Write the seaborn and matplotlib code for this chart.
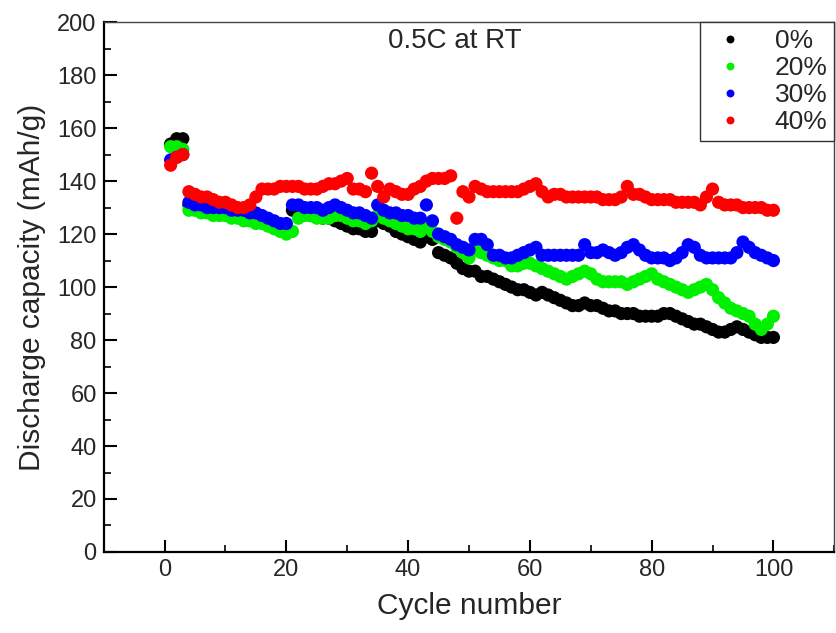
import numpy as np
import pandas as pd
import matplotlib
matplotlib.use("Agg")
import matplotlib.pyplot as plt
from matplotlib.ticker import MultipleLocator
import seaborn as sns

# discharge capacity (mAh/g) vs cycle
cycles = list(range(1, 101))

cap_0 = [154, 156, 156, 131, 130, 130, 129, 129, 128, 128,
         127, 127, 126, 126, 125, 125, 124, 123, 122, 121,
         129, 128, 128, 127, 127, 126, 126, 125, 124, 123,
         122, 122, 121, 121, 125, 124, 123, 121, 120, 119,
         118, 117, 119, 118, 113, 112, 111, 109, 107, 106,
         106, 104, 104, 103, 102, 101, 100, 99, 99, 98,
         97, 98, 97, 96, 95, 94, 93, 93, 94, 93,
         93, 92, 91, 91, 90, 90, 90, 89, 89, 89,
         89, 90, 90, 89, 88, 87, 86, 86, 85, 84,
         83, 83, 84, 85, 84, 83, 82, 81, 81, 81]

cap_20 = [153, 153, 152, 129, 129, 128, 128, 127, 127, 127,
          126, 126, 125, 125, 124, 124, 123, 122, 121, 120,
          121, 126, 127, 127, 126, 126, 126, 127, 127, 126,
          125, 125, 124, 125, 127, 126, 125, 124, 123, 122,
          122, 121, 124, 121, 119, 118, 117, 115, 113, 111,
          114, 113, 112, 111, 110, 110, 108, 108, 109, 109,
          108, 107, 106, 105, 104, 103, 104, 105, 106, 105,
          103, 102, 102, 102, 102, 101, 102, 103, 104, 105,
          103, 102, 101, 100, 99, 98, 99, 100, 101, 99,
          96, 94, 92, 91, 90, 89, 86, 84, 86, 89]

cap_30 = [148, 149, 150, 132, 131, 131, 130, 130, 130, 130,
          129, 129, 129, 128, 128, 127, 126, 125, 124, 124,
          131, 131, 130, 130, 130, 129, 130, 131, 130, 129,
          128, 128, 127, 126, 131, 129, 128, 128, 127, 127,
          126, 126, 131, 125, 120, 119, 118, 116, 115, 114,
          118, 118, 116, 112, 112, 111, 111, 112, 113, 114,
          115, 112, 112, 112, 112, 112, 112, 112, 116, 113,
          113, 114, 113, 112, 113, 115, 116, 114, 112, 111,
          111, 111, 110, 111, 113, 116, 115, 112, 111, 111,
          111, 111, 111, 113, 117, 115, 113, 112, 111, 110]

cap_40 = [146, 149, 150, 136, 135, 134, 134, 133, 132, 132,
          131, 130, 130, 131, 134, 137, 137, 137, 138, 138,
          138, 138, 137, 137, 137, 138, 139, 139, 140, 141,
          137, 137, 136, 143, 138, 134, 137, 136, 135, 135,
          137, 138, 140, 141, 141, 141, 142, 126, 136, 134,
          138, 137, 136, 136, 136, 136, 136, 136, 137, 138,
          139, 136, 134, 135, 135, 134, 134, 134, 134, 134,
          134, 133, 133, 133, 134, 138, 135, 135, 134, 133,
          133, 133, 133, 132, 132, 132, 132, 131, 134, 137,
          132, 131, 131, 131, 130, 130, 130, 130, 129, 129]

labels = ["0%", "20%", "30%", "40%"]
colors = ["black", "#00f000", "#0000ff", "#ff0000"]

df = pd.concat([
    pd.DataFrame({"cycle": cycles, "capacity": vals, "content": lab})
    for vals, lab in zip([cap_0, cap_20, cap_30, cap_40], labels)
], ignore_index=True)

sns.set_style("white")
plt.rcParams["font.family"] = ["Liberation Sans", "DejaVu Sans"]

fig = plt.figure(figsize=(8.36, 6.33), dpi=100)
ax = fig.add_axes([0.124, 0.128, 0.874, 0.837])

sns.scatterplot(data=df, x="cycle", y="capacity", hue="content",
                hue_order=labels, palette=colors, s=90, linewidth=0,
                ax=ax)

ax.set_xlim(-10, 110)
ax.set_ylim(0, 200)
ax.xaxis.set_major_locator(MultipleLocator(20))
ax.xaxis.set_minor_locator(MultipleLocator(10))
ax.yaxis.set_major_locator(MultipleLocator(20))
ax.yaxis.set_minor_locator(MultipleLocator(10))
ax.set_xticks([0, 20, 40, 60, 80, 100])
ax.tick_params(which="both", direction="in", bottom=True, left=True,
               top=False, right=False, color="black")
ax.tick_params(which="major", length=9, width=1.5, labelsize=17, pad=5)
ax.tick_params(which="minor", length=5, width=1.2)

for side in ["left", "bottom"]:
    ax.spines[side].set_linewidth(1.6)
    ax.spines[side].set_color("black")
for side in ["top", "right"]:
    ax.spines[side].set_linewidth(1.0)
    ax.spines[side].set_color("#444444")

ax.set_xlabel("Cycle number", fontsize=21.5, labelpad=8)
ax.set_ylabel("Discharge capacity (mAh/g)", fontsize=21.5, labelpad=8)

ax.text(0.48, 0.965, "0.5C at RT", transform=ax.transAxes,
        ha="center", va="center", fontsize=20)

handles, labs = ax.get_legend_handles_labels()
leg = ax.legend(handles, labs, loc="upper right", borderaxespad=0,
                fontsize=19, markerscale=0.6, frameon=True, fancybox=False,
                edgecolor="#333333", framealpha=1, labelspacing=0.12,
                handletextpad=0.8, borderpad=0.25, handlelength=1.8)
leg.get_frame().set_linewidth(1.0)

fig.savefig("out.png", dpi=100)
